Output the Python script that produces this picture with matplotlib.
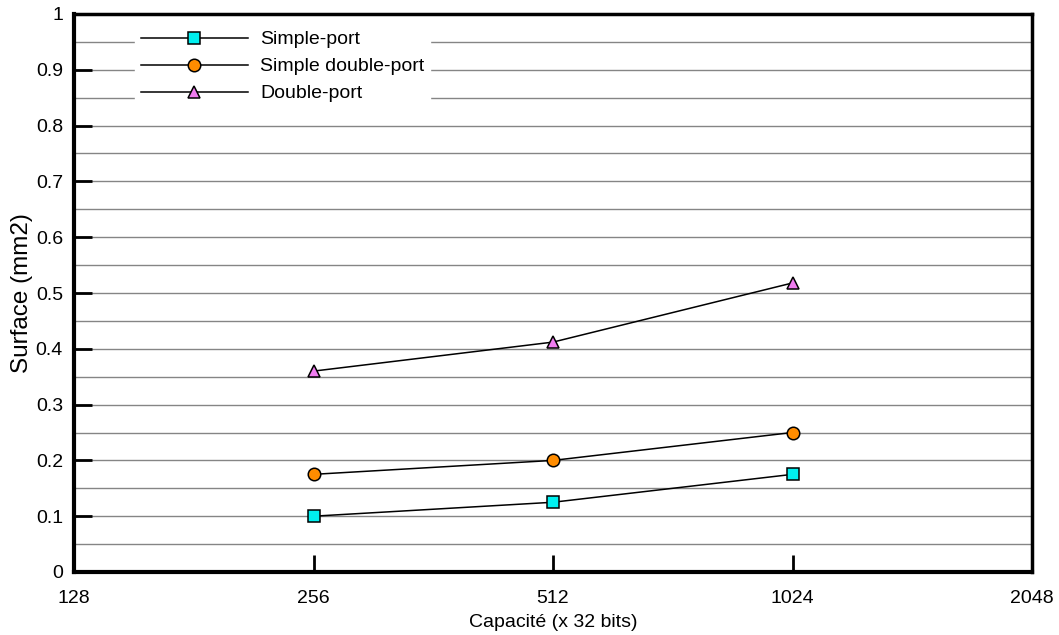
import numpy as np
import matplotlib.pyplot as plt

plt.rcParams['font.family'] = ['Liberation Sans', 'DejaVu Sans']

# Data
capacities = [256, 512, 1024]
simple_port = [0.100, 0.125, 0.175]
simple_double_port = [0.175, 0.200, 0.250]
double_port = [0.360, 0.412, 0.518]
x_ticks = [128, 256, 512, 1024, 2048]

fig = plt.figure(figsize=(10.59, 6.35), dpi=100)
ax = fig.add_axes([74 / 1059, 1 - 572 / 635, (1032 - 74) / 1059, (572 - 14) / 635])

# Horizontal grid every 0.05
for yv in np.arange(0.05, 1.0, 0.05):
    ax.axhline(yv, color='#858585', lw=1.0, zorder=1)

ax.plot(capacities, simple_port, color='black', lw=1.1, marker='s', ms=8,
        mfc='#00f0f0', mec='black', mew=1.1, label='Simple-port', zorder=3)
ax.plot(capacities, simple_double_port, color='black', lw=1.1, marker='o', ms=9,
        mfc='#ff8c00', mec='black', mew=1.1, label='Simple double-port', zorder=3)
ax.plot(capacities, double_port, color='black', lw=1.1, marker='^', ms=9,
        mfc='#f07cf0', mec='black', mew=1.1, label='Double-port', zorder=3)

ax.set_xscale('log', base=2)
ax.set_xlim(128, 2048)
ax.set_ylim(0, 1)
ax.set_xticks(x_ticks)
ax.set_xticklabels([str(v) for v in x_ticks])
ax.minorticks_off()
ax.set_yticks(np.arange(0, 1.01, 0.1))
ax.set_yticklabels(['0'] + [f'{v:.1f}' for v in np.arange(0.1, 0.95, 0.1)] + ['1'])

ax.tick_params(axis='y', direction='in', length=13, width=2, labelsize=14, pad=8)
ax.tick_params(axis='x', direction='in', length=12, width=2, labelsize=14, pad=13)
# hide tick marks at the limits
ax.xaxis.get_major_ticks()[0].tick1line.set_visible(False)
ax.xaxis.get_major_ticks()[-1].tick1line.set_visible(False)
ax.yaxis.get_major_ticks()[0].tick1line.set_visible(False)
ax.yaxis.get_major_ticks()[-1].tick1line.set_visible(False)

for side in ['left', 'bottom']:
    ax.spines[side].set_linewidth(3)
for side in ['top', 'right']:
    ax.spines[side].set_linewidth(2.5)

ax.set_xlabel('Capacité (x 32 bits)', fontsize=14, labelpad=5)
ax.set_ylabel('Surface (mm2)', fontsize=17.5, labelpad=2)

leg = ax.legend(loc='upper left', bbox_to_anchor=((135 - 74) / 958, (572 - 25) / 558),
                frameon=True, fontsize=14, handlelength=5.5, handletextpad=0.65,
                labelspacing=0.48, borderpad=0.3, borderaxespad=0)
leg.get_frame().set_facecolor('white')
leg.get_frame().set_edgecolor('white')
leg.get_frame().set_alpha(1.0)
leg.get_frame().set_boxstyle('square', pad=0.0)

fig.savefig('out.png', dpi=100)
